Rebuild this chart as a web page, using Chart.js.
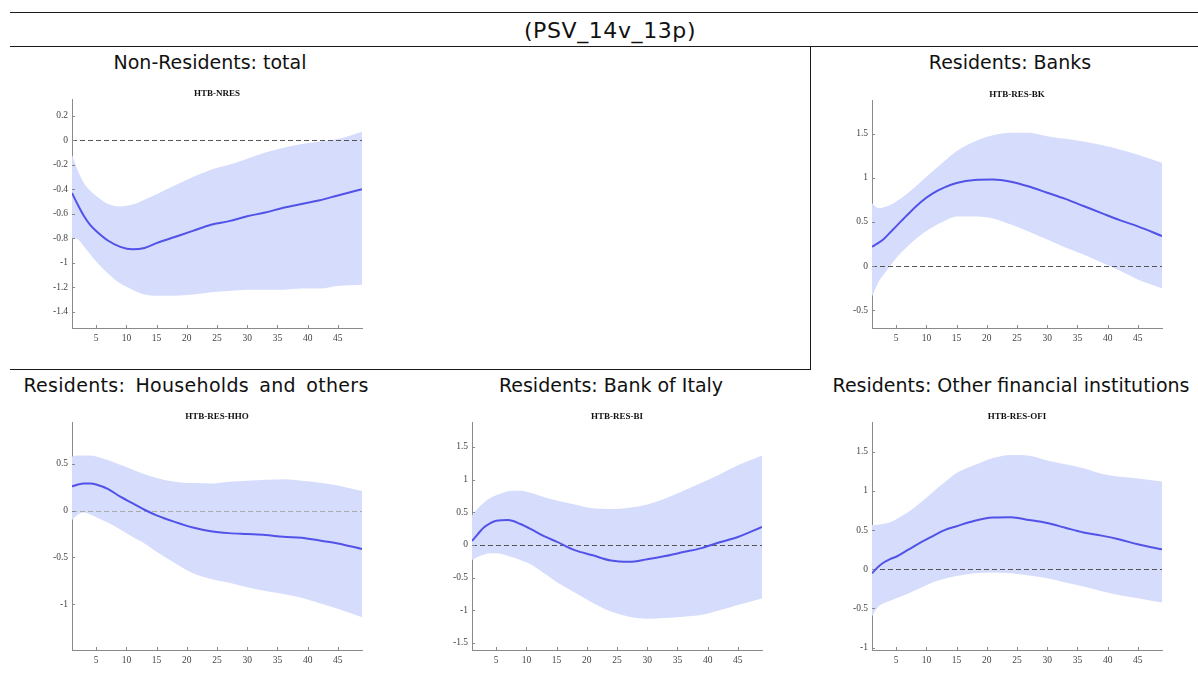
<!DOCTYPE html>
<html>
<head>
<meta charset="utf-8">
<script src="https://cdn.jsdelivr.net/npm/chart.js@4.4.0/dist/chart.umd.min.js"></script>
<style>
    body { margin: 0; width: 1198px; height: 684px; background: #fff; position: relative; overflow: hidden; font-family: "DejaVu Sans", sans-serif; }
    .rule { position: absolute; background: #1a1a1a; }
    .head { position: absolute; transform: translate(-50%, -50%); white-space: nowrap; color: #111; font-size: 19px; }
    canvas { position: absolute; }
</style>
</head>
<body>

<div class="rule" style="left:10px;top:12px;width:1188px;height:1px"></div>
<div class="rule" style="left:10px;top:46px;width:1188px;height:1px"></div>
<div class="rule" style="left:810px;top:46px;width:1px;height:324px"></div>
<div class="rule" style="left:10px;top:369px;width:801px;height:1px"></div>

<div class="head" style="left:610px;top:30px;font-size:22px;letter-spacing:0.6px">(PSV_14v_13p)</div>
<div class="head" style="left:210px;top:62px">Non-Residents: total</div>
<div class="head" style="left:1010px;top:62px">Residents: Banks</div>
<div class="head" style="left:196px;top:385px;word-spacing:4px;letter-spacing:0.3px">Residents: Households and others</div>
<div class="head" style="left:611px;top:385px">Residents: Bank of Italy</div>
<div class="head" style="left:1011px;top:385px">Residents: Other financial institutions</div>

<canvas id="nres"></canvas>
<canvas id="bk"></canvas>
<canvas id="hho"></canvas>
<canvas id="bi"></canvas>
<canvas id="ofi"></canvas>

<script>
// horizons (x axis 1..49)
const horizons = [1, 2, 3, 4, 5, 7, 9, 11, 13, 15, 18, 21, 24, 27, 30, 33, 36, 39, 42, 45, 49];
const xTicks = [5, 10, 15, 20, 25, 30, 35, 40, 45];

// HTB-NRES
const nresMedian = [-0.43, -0.53, -0.62, -0.69, -0.74, -0.82, -0.87, -0.89, -0.88, -0.84, -0.79, -0.74, -0.69, -0.66, -0.62, -0.59, -0.55, -0.52, -0.49, -0.45, -0.40];
const nresUpper = [-0.12, -0.25, -0.35, -0.41, -0.455, -0.52, -0.54, -0.525, -0.485, -0.44, -0.37, -0.30, -0.24, -0.20, -0.15, -0.10, -0.06, -0.03, -0.01, 0.01, 0.07];
const nresLower = [-0.80, -0.81, -0.87, -0.93, -0.99, -1.09, -1.17, -1.22, -1.26, -1.27, -1.27, -1.26, -1.24, -1.23, -1.22, -1.22, -1.22, -1.21, -1.21, -1.19, -1.18];
const nresTicks = [0.2, 0, -0.2, -0.4, -0.6, -0.8, -1, -1.2, -1.4];

// HTB-RES-BK
const bkMedian = [0.22, 0.26, 0.31, 0.38, 0.45, 0.59, 0.72, 0.82, 0.89, 0.94, 0.975, 0.98, 0.955, 0.90, 0.83, 0.76, 0.68, 0.60, 0.52, 0.45, 0.34];
const bkUpper = [0.71, 0.655, 0.665, 0.69, 0.73, 0.83, 0.95, 1.07, 1.19, 1.30, 1.41, 1.48, 1.51, 1.51, 1.47, 1.44, 1.41, 1.37, 1.32, 1.26, 1.17];
const bkLower = [-0.345, -0.19, -0.09, 0.0, 0.09, 0.23, 0.35, 0.44, 0.51, 0.56, 0.56, 0.54, 0.47, 0.39, 0.30, 0.21, 0.13, 0.04, -0.05, -0.15, -0.25];
const bkTicks = [1.5, 1, 0.5, 0, -0.5];

// HTB-RES-HHO
const hhoMedian = [0.26, 0.28, 0.29, 0.29, 0.28, 0.23, 0.15, 0.08, 0.01, -0.05, -0.12, -0.18, -0.22, -0.24, -0.25, -0.26, -0.28, -0.29, -0.32, -0.35, -0.41];
const hhoUpper = [0.58, 0.59, 0.59, 0.59, 0.58, 0.54, 0.49, 0.44, 0.39, 0.35, 0.31, 0.295, 0.29, 0.31, 0.32, 0.33, 0.335, 0.32, 0.30, 0.27, 0.21];
const hhoLower = [-0.10, -0.04, -0.02, -0.04, -0.07, -0.13, -0.20, -0.28, -0.35, -0.44, -0.56, -0.67, -0.73, -0.77, -0.82, -0.86, -0.89, -0.93, -0.99, -1.05, -1.14];
const hhoTicks = [0.5, 0, -0.5, -1];

// HTB-RES-BI
const biMedian = [0.06, 0.17, 0.27, 0.33, 0.37, 0.38, 0.32, 0.23, 0.13, 0.05, -0.08, -0.16, -0.24, -0.26, -0.22, -0.17, -0.11, -0.05, 0.04, 0.12, 0.275];
const biUpper = [0.45, 0.56, 0.65, 0.72, 0.76, 0.82, 0.83, 0.79, 0.73, 0.68, 0.62, 0.56, 0.55, 0.57, 0.62, 0.71, 0.83, 0.95, 1.08, 1.22, 1.37];
const biLower = [-0.23, -0.18, -0.15, -0.13, -0.13, -0.17, -0.23, -0.31, -0.44, -0.57, -0.73, -0.89, -1.02, -1.10, -1.13, -1.12, -1.10, -1.07, -1.00, -0.92, -0.82];
const biTicks = [1.5, 1, 0.5, 0, -0.5, -1, -1.5];

// HTB-RES-OFI
const ofiMedian = [-0.05, 0.03, 0.09, 0.13, 0.16, 0.25, 0.34, 0.42, 0.50, 0.55, 0.62, 0.66, 0.665, 0.63, 0.59, 0.53, 0.47, 0.43, 0.38, 0.32, 0.255];
const ofiUpper = [0.565, 0.57, 0.58, 0.60, 0.64, 0.73, 0.85, 0.98, 1.11, 1.23, 1.33, 1.42, 1.46, 1.45, 1.39, 1.34, 1.29, 1.22, 1.18, 1.16, 1.12];
const ofiLower = [-0.60, -0.48, -0.43, -0.40, -0.37, -0.31, -0.24, -0.17, -0.12, -0.085, -0.05, -0.04, -0.05, -0.08, -0.115, -0.17, -0.22, -0.28, -0.33, -0.37, -0.425];
const ofiTicks = [1.5, 1, 0.5, 0, -0.5, -1];

const bandColor = 'rgb(214, 221, 252)';
const lineColor = 'rgb(82, 82, 232)';
const axisColor = '#8a8a8a';
const tickFont = { family: '"Liberation Serif", serif', size: 9.5 };

const yAxisW = 40, xAxisH = 20, titleH = 19.8;

// zero line drawn between the band and the median, plus small inward ticks
const extras = {
    id: 'extras',
    afterDatasetDraw(chart, args, opts) {
        if (args.index !== 1) return;
        let ctx = chart.ctx, a = chart.chartArea, xs = chart.scales.x, ys = chart.scales.y;
        ctx.save();
        ctx.strokeStyle = opts.zeroColor;
        ctx.lineWidth = 1;
        ctx.setLineDash([5, 3]);
        let y0 = Math.round(ys.getPixelForValue(0)) + 0.5;
        ctx.beginPath();
        ctx.moveTo(a.left, y0);
        ctx.lineTo(a.right, y0);
        ctx.stroke();
        ctx.setLineDash([]);
        ctx.strokeStyle = axisColor;
        ctx.beginPath();
        ys.ticks.forEach(t => {
            let y = Math.round(ys.getPixelForValue(t.value)) + 0.5;
            ctx.moveTo(a.left, y);
            ctx.lineTo(a.left + 3, y);
        });
        xs.ticks.forEach(t => {
            let x = Math.round(xs.getPixelForValue(t.value)) + 0.5;
            ctx.moveTo(x, a.bottom);
            ctx.lineTo(x, a.bottom - 3);
        });
        ctx.stroke();
        ctx.restore();
    }
};

function points(arr) {
    return arr.map((v, i) => ({ x: horizons[i], y: v }));
}

function makePanel(id, box, title, median, upper, lower, yTicks, yMin, yMax, zeroColor) {
    let cv = document.getElementById(id);
    cv.width = box.right - box.left + yAxisW + 4;
    cv.height = Math.round(box.bottom - box.top + titleH + xAxisH);
    cv.style.left = (box.left - yAxisW) + 'px';
    cv.style.top = Math.round(box.top - titleH) + 'px';

    return new Chart(cv, {
        type: 'line',
        data: {
            datasets: [{
                data: points(median),
                borderColor: lineColor,
                borderWidth: 2,
                pointRadius: 0,
                fill: false,
                cubicInterpolationMode: 'monotone'
            },
            {
                data: points(upper),
                borderWidth: 0,
                borderColor: 'rgba(0,0,0,0)',
                backgroundColor: bandColor,
                pointRadius: 0,
                fill: '+1',
                cubicInterpolationMode: 'monotone'
            },
            {
                data: points(lower),
                borderWidth: 0,
                borderColor: 'rgba(0,0,0,0)',
                pointRadius: 0,
                fill: false,
                cubicInterpolationMode: 'monotone'
            }]
        },
        options: {
            responsive: false,
            animation: false,
            layout: { padding: { left: 0, right: 4, top: 0, bottom: 0 } },
            plugins: {
                legend: { display: false },
                tooltip: { enabled: false },
                title: {
                    display: true,
                    text: title,
                    fullSize: false,
                    color: '#111',
                    font: { family: '"Liberation Serif", serif', size: 9, weight: 'bold' },
                    padding: { top: 8, bottom: 1 }
                },
                extras: { zeroColor: zeroColor }
            },
            scales: {
                x: {
                    type: 'linear',
                    min: 1,
                    max: 49,
                    afterBuildTicks: s => { s.ticks = xTicks.map(v => ({ value: v })); },
                    afterFit: s => { s.height = xAxisH; },
                    grid: { display: false, drawTicks: false },
                    border: { display: true, color: axisColor, width: 1 },
                    ticks: { font: tickFont, color: '#444', padding: 5, maxRotation: 0, callback: v => String(v) }
                },
                y: {
                    min: yMin,
                    max: yMax,
                    afterBuildTicks: s => { s.ticks = yTicks.map(v => ({ value: v })); },
                    afterFit: s => { s.width = yAxisW; },
                    grid: { display: false, drawTicks: false },
                    border: { display: true, color: axisColor, width: 1 },
                    ticks: { font: tickFont, color: '#444', padding: 4, callback: v => String(v) }
                }
            }
        },
        plugins: [extras]
    });
}

makePanel('nres', { left: 72, top: 100, right: 362, bottom: 328 }, 'HTB-NRES', nresMedian, nresUpper, nresLower, nresTicks, -1.533, 0.331, '#555');
makePanel('bk', { left: 872, top: 101, right: 1162, bottom: 328 }, 'HTB-RES-BK', bkMedian, bkUpper, bkLower, bkTicks, -0.70, 1.87, '#555');
makePanel('hho', { left: 72, top: 423, right: 362, bottom: 650 }, 'HTB-RES-HHO', hhoMedian, hhoUpper, hhoLower, hhoTicks, -1.49, 0.94, '#aaa');
makePanel('bi', { left: 472, top: 423, right: 762, bottom: 650 }, 'HTB-RES-BI', biMedian, biUpper, biLower, biTicks, -1.61, 1.87, '#555');
makePanel('ofi', { left: 872, top: 423, right: 1162, bottom: 650 }, 'HTB-RES-OFI', ofiMedian, ofiUpper, ofiLower, ofiTicks, -1.03, 1.87, '#555');
</script>
</body>
</html>
